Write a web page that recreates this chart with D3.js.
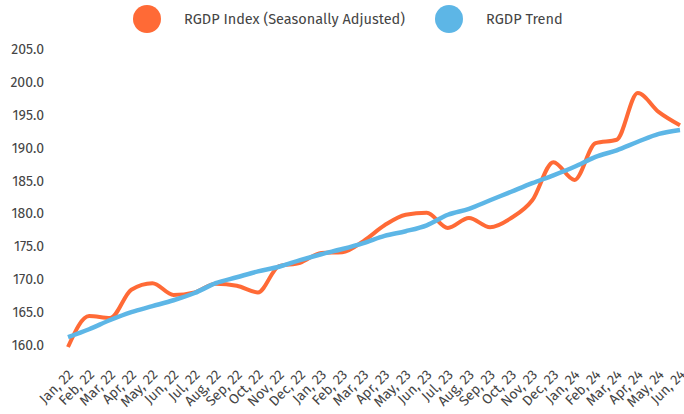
<!DOCTYPE html>
<html>
<head>
<meta charset="utf-8">
<script src="https://cdn.jsdelivr.net/npm/d3@7"></script>
<style>
  body { margin: 0; background: #fff; }
  svg { display: block; }
</style>
</head>
<body>
<div id="chart"></div>
<script>
const months = ['Jan, 22', 'Feb, 22', 'Mar, 22', 'Apr, 22', 'May, 22', 'Jun, 22', 'Jul, 22', 'Aug, 22', 'Sep, 22', 'Oct, 22',
  'Nov, 22', 'Dec, 22', 'Jan, 23', 'Feb, 23', 'Mar, 23', 'Apr, 23', 'May, 23', 'Jun, 23', 'Jul, 23', 'Aug, 23',
  'Sep, 23', 'Oct, 23', 'Nov, 23', 'Dec, 23', 'Jan, 24', 'Feb, 24', 'Mar, 24', 'Apr, 24', 'May, 24', 'Jun, 24'];

const rgdpIndex = [159.7, 164.4, 164.1, 168.4, 169.4, 167.6, 168.0, 169.3, 169.0, 168.0,
  172.0, 172.5, 174.0, 174.1, 175.8, 178.2, 179.8, 180.1, 177.8, 179.3,
  177.9, 179.3, 182.0, 187.8, 185.1, 190.7, 191.2, 198.3, 195.4, 193.4];

const rgdpTrend = [161.2, 162.4, 163.8, 165.0, 165.9, 166.8, 167.9, 169.4, 170.3, 171.2,
  171.9, 172.9, 173.8, 174.6, 175.5, 176.6, 177.3, 178.2, 179.8, 180.7,
  182.0, 183.3, 184.6, 185.8, 187.1, 188.6, 189.6, 190.9, 192.1, 192.7];

const yTicks = [160, 165, 170, 175, 180, 185, 190, 195, 200, 205];

const series = [
  {name: 'RGDP Index (Seasonally Adjusted)', values: rgdpIndex, color: '#ff6a36'},
  {name: 'RGDP Trend', values: rgdpTrend, color: '#5db6e6'}
];

const font = '"Fira Sans", "Open Sans", sans-serif';
const width = 684, height = 414;
const svg = d3.select('#chart').append('svg')
  .attr('width', width)
  .attr('height', height);

const x = d3.scalePoint()
  .domain(months)
  .range([68, 680]);
const y = d3.scaleLinear()
  .domain([160, 205])
  .range([345, 49]);

// y axis labels only, no line
const yAxis = svg.append('g')
  .attr('transform', 'translate(44, 0)')
  .call(d3.axisLeft(y).tickValues(yTicks).tickFormat(d3.format('.1f')).tickSize(0).tickPadding(0));
yAxis.select('.domain').remove();
yAxis.selectAll('text')
  .attr('fill', '#444')
  .style('font-family', font)
  .style('font-size', '14px');

// x axis, rotated labels
const xAxis = svg.append('g')
  .attr('transform', 'translate(2, 372)')
  .call(d3.axisBottom(x).tickSize(0).tickPadding(0));
xAxis.select('.domain').remove();
xAxis.selectAll('text')
  .attr('fill', '#444')
  .style('font-family', font)
  .style('font-size', '14px')
  .style('text-anchor', 'end')
  .attr('y', 0)
  .attr('dy', '0.35em')
  .attr('transform', 'rotate(-45)');

const line = d3.line()
  .x((d, i) => x(months[i]))
  .y(d => y(d))
  .curve(d3.curveMonotoneX);

svg.selectAll('.series')
  .data(series)
  .enter().append('path')
  .attr('class', 'series')
  .attr('fill', 'none')
  .attr('stroke', d => d.color)
  .attr('stroke-width', (d, i) => i ? 4.5 : 4)
  .attr('stroke-linejoin', 'round')
  .attr('d', d => line(d.values));

// legend
const legendPos = [147, 449];
const legend = svg.selectAll('.legend')
  .data(series)
  .enter().append('g')
  .attr('class', 'legend')
  .attr('transform', (d, i) => `translate(${legendPos[i]}, 19)`);
legend.append('circle')
  .attr('r', 14)
  .attr('fill', d => d.color);
legend.append('text')
  .attr('x', 37)
  .attr('dy', '0.35em')
  .attr('fill', '#444')
  .style('font-family', font)
  .style('font-size', '14.5px')
  .text(d => d.name);
</script>
</body>
</html>
